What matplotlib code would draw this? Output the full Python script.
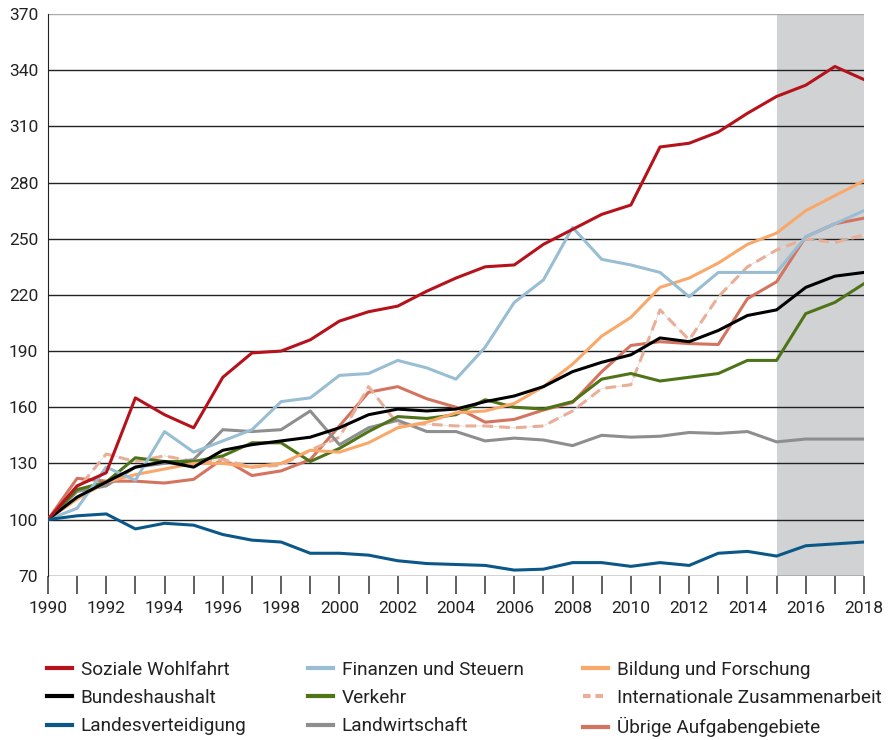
import matplotlib
matplotlib.use('Agg')
import matplotlib.pyplot as plt
from matplotlib.lines import Line2D

plt.rcParams['font.family'] = ['Roboto', 'DejaVu Sans']

years = list(range(1990, 2019))

soziale = [100, 118, 125, 165, 156, 149, 176, 189, 190, 196, 206, 211, 214, 222, 229,
           235, 236, 247, 255, 263, 268, 299, 301, 307, 317, 326, 332, 342, 335]
finanzen = [100, 106, 128, 121, 147, 136, 142, 148, 163, 165, 177, 178, 185, 181, 175,
            192, 216, 228, 256, 239, 236, 232, 219, 232, 232, 232, 251, 258, 265]
bildung = [100, 111, 120, 124, 127, 130, 130, 128, 130, 137, 136, 141, 149, 152, 157,
           158, 162, 171, 183, 198, 208, 224, 229, 237, 247, 253, 265, 273, 281]
bund = [100, 112, 120, 128, 131, 128, 137, 140, 142, 144, 149, 156, 159, 158, 159,
        163, 166, 171, 179, 184, 188, 197, 195, 201, 209, 212, 224, 230, 232]
verkehr = [100, 116, 120, 133, 131, 131, 134, 141, 141, 131, 138, 147, 155, 154, 156,
           164, 160, 159, 163, 175, 178, 174, 176, 178, 185, 185, 210, 216, 226]
intern = [100, 116, 135, 131, 134, 131, 132, 128, 129, 137, 144, 171, 151, 151, 150,
          150, 149, 150, 158, 170, 172, 212, 196, 219, 235, 244, 250, 248, 252]
landes = [100, 102, 103, 95, 98, 97, 92, 89, 88, 82, 82, 81, 78, 76.5, 76,
          75.5, 73, 73.5, 77, 77, 75, 77, 75.5, 82, 83, 80.5, 86, 87, 88]
landw = [100, 115, 118, 128, 130, 132, 148, 147, 148, 158, 140, 149, 153, 147, 147,
         142, 143.5, 142.5, 139.5, 145, 144, 144.5, 146.5, 146, 147, 141.5, 143, 143, 143]
uebrige = [100, 122, 120.5, 120.5, 119.5, 121.5, 132.5, 123.5, 126, 132, 150, 168, 171, 164.5, 160,
           152, 153.5, 158.5, 162.5, 179, 193, 195, 194, 193.5, 218, 227, 251, 258, 261]

series = [
    ('Soziale Wohlfahrt', soziale, '#B5121B', '-'),
    ('Bundeshaushalt', bund, '#000000', '-'),
    ('Landesverteidigung', landes, '#0B5788', '-'),
    ('Finanzen und Steuern', finanzen, '#99BDD3', '-'),
    ('Verkehr', verkehr, '#4F7418', '-'),
    ('Landwirtschaft', landw, '#8E8E8E', '-'),
    ('Bildung und Forschung', bildung, '#F9A86A', '-'),
    ('Internationale Zusammenarbeit', intern, '#E8AE98', '--'),
    ('Übrige Aufgabengebiete', uebrige, '#D4745F', '-'),
]
draw_order = ['Übrige Aufgabengebiete', 'Internationale Zusammenarbeit', 'Landwirtschaft',
              'Verkehr', 'Bildung und Forschung', 'Finanzen und Steuern',
              'Bundeshaushalt', 'Soziale Wohlfahrt', 'Landesverteidigung']

fig = plt.figure(figsize=(8.88, 7.4), dpi=100)
ax = fig.add_axes([0.054, 0.222, 0.919, 0.759])

ax.axvspan(2015, 2018, color='#D1D2D4', zorder=0, lw=0)
for v in range(70, 371, 30):
    ax.axhline(v, color='#222222' if v != 370 else '#aaaaaa', lw=1.0, zorder=1)

lookup = {s[0]: s for s in series}
for i, name in enumerate(draw_order):
    label, vals, col, ls = lookup[name]
    if ls == '--':
        # thin connecting line visible in the dash gaps
        ax.plot(years, vals, color='#dddddd', lw=0.6, zorder=3 + i)
        ax.plot(years, vals, color=col, lw=2.2, dashes=(3.5, 2), zorder=3 + i)
    else:
        ax.plot(years, vals, color=col, lw=2.2, zorder=3 + i)

ax.set_xlim(1990, 2018)
ax.set_ylim(70, 370)
ax.set_yticks(range(70, 371, 30))
ax.set_xticks(years, minor=True)
ax.set_xticks(range(1990, 2019, 2))
ax.tick_params(axis='y', length=0, labelsize=12.5, pad=7, colors='#222222')
ax.tick_params(axis='x', which='both', length=13, width=1.2, color='#444444',
               direction='out', labelsize=12.5, pad=5, labelcolor='#222222')
for s in ['top', 'right', 'bottom']:
    ax.spines[s].set_visible(False)
ax.spines['left'].set_color('#222222')

# legend: three columns placed separately
col_x = [47 / 888, 308 / 888, 583 / 888]
for c in range(3):
    entries = series[c * 3:(c + 1) * 3]
    handles = []
    for _, _, col, ls in entries:
        if ls == '--':
            handles.append(Line2D([], [], color=col, lw=3, dashes=(1.8, 1.2)))
        else:
            handles.append(Line2D([], [], color=col, lw=3))
    fig.legend(handles, [e[0] for e in entries], loc='upper left',
               bbox_to_anchor=(col_x[c], 1 - 661 / 740), frameon=False,
               fontsize=13.7, handlelength=1.3, handletextpad=0.48,
               labelspacing=0.53, borderpad=0, borderaxespad=0,
               labelcolor='#222222')

fig.savefig('out.png', dpi=100, facecolor='white')
